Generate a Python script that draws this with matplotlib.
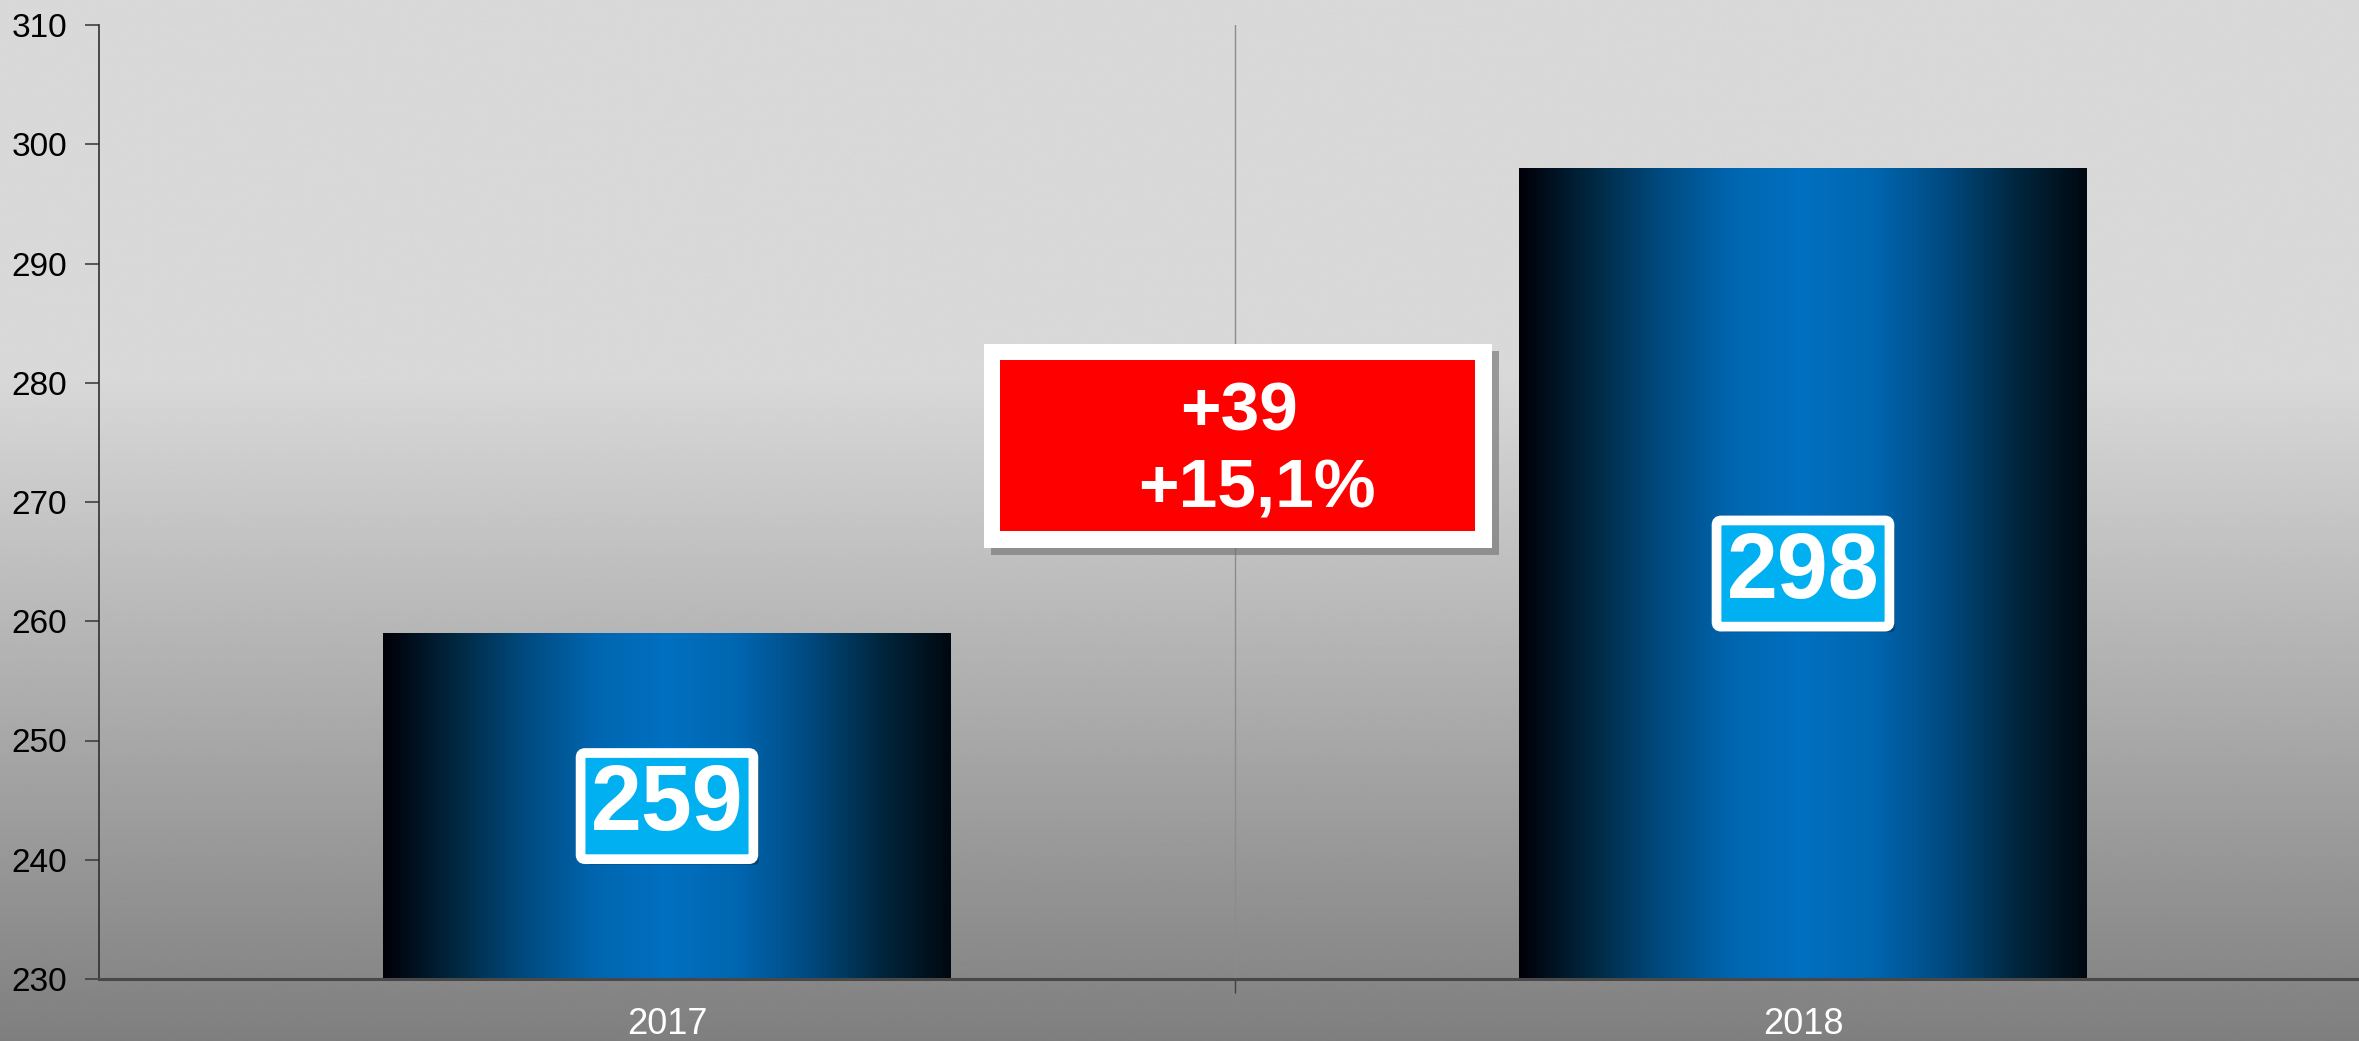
import numpy as np
import matplotlib.pyplot as plt
import matplotlib.patheffects as pe
from matplotlib.colors import LinearSegmentedColormap
from matplotlib.patches import Rectangle

plt.rcParams['font.family'] = ['Liberation Sans', 'DejaVu Sans']

# data
years = ['2017', '2018']
values = [259, 298]
y_min, y_max = 230, 310
diff_label = '+39'
pct_label = '+15,1%'

W, H = 2359, 1041
fig = plt.figure(figsize=(W / 100, H / 100), dpi=100)

# background gradient (flat light grey on top, darker towards the bottom)
bg = fig.add_axes([0, 0, 1, 1], zorder=-10)
rows = np.linspace(0, 1, 500)
shade = np.where(rows < 0.357, 217, 217 - (rows - 0.357) / (1 - 0.357) * 90) / 255
bg.imshow(np.repeat(shade[:, None], 2, axis=1), cmap='gray', vmin=0, vmax=1,
          aspect='auto', extent=[0, 1, 0, 1], interpolation='bilinear')
bg.set_axis_off()

# axes run a little past the right edge, like the original
ax = fig.add_axes([99 / W, 1 - 979 / H, 2272 / W, (979 - 25) / H])
ax.patch.set_alpha(0)

x = np.arange(len(years))
bars = ax.bar(x, [v - y_min for v in values], bottom=y_min, width=0.5,
              color='none', edgecolor='none')

blue = LinearSegmentedColormap.from_list(
    'bar', ['#000008', '#01273f', '#004a80', '#0066b0', '#0070c0',
            '#0066b0', '#004a80', '#01273f', '#000810'])
grad = np.linspace(0, 1, 256)[None, :]
for b in bars:
    x0, y0, w, h = b.get_x(), b.get_y(), b.get_width(), b.get_height()
    im = ax.imshow(grad, cmap=blue, aspect='auto', extent=[x0, x0 + w, y0, y0 + h],
                   zorder=2, interpolation='bilinear')
    im.set_clip_path(b)

ax.set_xlim(-0.5, len(years) - 0.5)
ax.set_ylim(y_min, y_max)
ax.set_yticks(np.arange(y_min, y_max + 1, 10))
ax.set_xticks(x)
ax.set_xticklabels(years)
ax.set_xticks([0.5], minor=True)
ax.tick_params(axis='x', which='major', length=0, pad=20, labelsize=26, labelcolor='white')
ax.tick_params(axis='x', which='minor', length=10, width=1, color='#404040', direction='out')
ax.tick_params(axis='y', length=10, width=1.2, color='#404040', labelsize=24, pad=13)
ax.axvline(0.5, color='#8c8c8c', lw=1, zorder=1)

for s in ['top', 'right']:
    ax.spines[s].set_visible(False)
ax.spines['left'].set_color('#303030')
ax.spines['left'].set_linewidth(1.2)
ax.spines['bottom'].set_color('#484848')
ax.spines['bottom'].set_linewidth(2.2)
ax.spines['bottom'].set_zorder(3)

# value labels inside bars
box_style = 'round,pad=0.11,rounding_size=0.05'
for xi, v in zip(x, values):
    yc = (y_min + v) / 2
    t = ax.text(xi, yc, str(v), ha='center', va='center', fontsize=66,
                fontweight='bold', color='white', zorder=4,
                bbox=dict(boxstyle=box_style, fc='#00b0f0', ec='white', lw=7))
    t.get_bbox_patch().set_path_effects([
        pe.SimplePatchShadow(offset=(4, -4), shadow_rgbFace='#0a1a2a', alpha=0.4),
        pe.Normal()])

# difference box
ax.add_patch(Rectangle((0.3895 + 0.003, 0.4518 - 0.007), 0.2236, 0.2138,
                       transform=ax.transAxes, fc='#6e6e6e', ec='none', alpha=0.6, zorder=4))
ax.add_patch(Rectangle((0.3895, 0.4518), 0.2236, 0.2138,
                       transform=ax.transAxes, fc='white', ec='none', zorder=5))
ax.add_patch(Rectangle((0.3966, 0.4696), 0.2091, 0.1792,
                       transform=ax.transAxes, fc='#ff0000', ec='none', zorder=6))
ax.text(0.5018, 0.594, diff_label, transform=ax.transAxes, ha='center', va='center',
        fontsize=50, fontweight='bold', color='white', zorder=7)
ax.text(0.5097, 0.513, pct_label, transform=ax.transAxes, ha='center', va='center',
        fontsize=50, fontweight='bold', color='white', zorder=7)

fig.savefig('out.png', dpi=100)
